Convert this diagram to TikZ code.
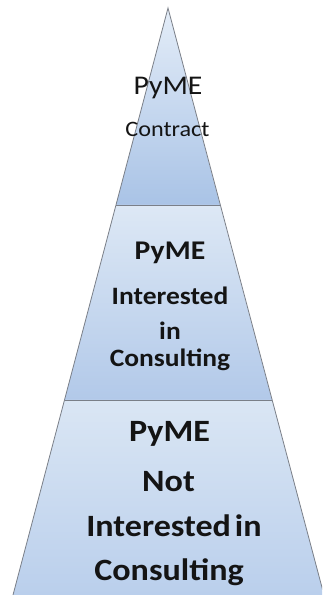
\documentclass[tikz,border=0pt]{standalone}
\usepackage{fontspec}
\newfontfamily\calfont[FakeStretch=1.1]{Carlito}
\definecolor{edgegray}{HTML}{7A7F88}
\definecolor{txt}{HTML}{141414}
\definecolor{bandtop}{HTML}{E4EDF8}
\definecolor{bandbot}{HTML}{A9C3E6}
\definecolor{midtop}{HTML}{DDE8F5}
\definecolor{midbot}{HTML}{B2C9E9}
\definecolor{lowtop}{HTML}{DAE6F4}
\definecolor{lowbot}{HTML}{BACFEC}
\begin{document}
\begin{tikzpicture}[x=1pt,y=1pt,
  lbl/.style={anchor=base,inner sep=0pt,text=txt,font=\calfont},
  edge/.style={draw=edgegray,line width=0.8pt}]
\useasboundingbox (0,0) rectangle (322,595);
\fill[white] (0,0) rectangle (322,595);
% key points
\coordinate (apex) at (168,587);
\coordinate (l1) at (116,390);
\coordinate (r1) at (220,390);
\coordinate (l2) at (64.5,195);
\coordinate (r2) at (272,195);
\coordinate (l3) at (13,0);
\coordinate (r3) at (324,0);
\begin{scope}
\clip (0,0) rectangle (322,595);
\shade[top color=bandtop,bottom color=bandbot] (apex) -- (r1) -- (l1) -- cycle;
\shade[top color=midtop,bottom color=midbot] (l1) -- (r1) -- (r2) -- (l2) -- cycle;
\shade[top color=lowtop,bottom color=lowbot] (l2) -- (r2) -- (r3) -- (l3) -- cycle;
\draw[edge] (l1) -- (r1);
\draw[edge] (l2) -- (r2);
\draw[edge,line join=miter] (l3) -- (apex) -- (r3);
\end{scope}
% top band
\node[lbl,font=\calfont\fontsize{27}{30}\selectfont] (t1) at (168,500) {PyME};
\node[lbl,font=\calfont\fontsize{22}{26}\selectfont] (t2) at (167.5,458) {Contract};
% middle band
\node[lbl,font=\calfont\bfseries\fontsize{27}{30}\selectfont] (m1) at (170,335) {PyME};
\node[lbl,font=\calfont\bfseries\fontsize{25}{30}\selectfont] (m2) at (170,290) {Interested};
\node[lbl,font=\calfont\bfseries\fontsize{25}{30}\selectfont] (m3) at (170,255) {in};
\node[lbl,font=\calfont\bfseries\fontsize{25}{30}\selectfont] (m4) at (170,228) {Consulting};
% bottom band
\node[lbl,font=\calfont\bfseries\fontsize{31}{36}\selectfont] (b1) at (169.5,153) {PyME};
\node[lbl,font=\calfont\bfseries\fontsize{31}{36}\selectfont] (b2) at (168.5,103) {Not};
\node[lbl,font=\calfont\bfseries\fontsize{31}{36}\selectfont] (b3) at (174,58) {Interested\hspace{-0.12em} in};
\node[lbl,font=\calfont\bfseries\fontsize{31}{36}\selectfont] (b4) at (169,15) {Consulting};
\end{tikzpicture}
\end{document}
